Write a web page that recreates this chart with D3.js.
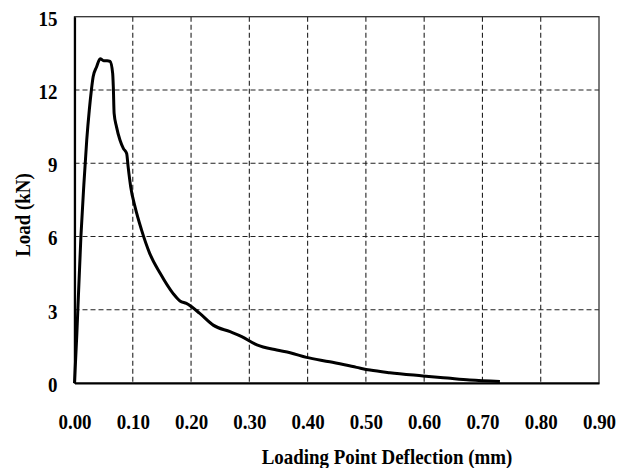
<!DOCTYPE html>
<html>
<head>
<meta charset="utf-8">
<script src="https://cdn.jsdelivr.net/npm/d3@7"></script>
<style>
    body { margin: 0; background: #fff; }
    svg { display: block; }
    .tick-label { font-family: "Liberation Serif", "Times New Roman", serif; font-weight: bold; font-size: 22px; fill: #000; }
    .axis-title { font-family: "Liberation Serif", "Times New Roman", serif; font-weight: bold; font-size: 22px; fill: #000; }
</style>
</head>
<body>
<div id="chart"></div>
<script>
// Load-deflection curve
const deflection = [0, 0.004, 0.011, 0.016, 0.021, 0.0254, 0.029, 0.032, 0.038, 0.044, 0.050, 0.056, 0.061,
    0.0655, 0.0666, 0.068, 0.072, 0.078, 0.084, 0.0895, 0.092, 0.0964, 0.104, 0.115, 0.129, 0.147, 0.169,
    0.181, 0.192, 0.215, 0.238, 0.267, 0.287, 0.313, 0.347, 0.370, 0.398, 0.438, 0.484, 0.507, 0.541,
    0.598, 0.640, 0.678, 0.730];
const load = [0, 2.0, 6.0, 8.1, 9.95, 11.18, 12.0, 12.54, 12.95, 13.28, 13.2, 13.2, 13.17,
    12.68, 12.13, 11.04, 10.5, 9.95, 9.6, 9.4, 8.86, 8.04, 7.2, 6.27, 5.31, 4.49, 3.67,
    3.36, 3.26, 2.85, 2.37, 2.1, 1.9, 1.56, 1.35, 1.24, 1.05, 0.87, 0.64, 0.53, 0.42,
    0.29, 0.2, 0.12, 0.06];

const xTicks = [0, 0.1, 0.2, 0.3, 0.4, 0.5, 0.6, 0.7, 0.8, 0.9];
const yTicks = [0, 3, 6, 9, 12, 15];
const xTitle = 'Loading Point Deflection (mm)';
const yTitle = 'Load (kN)';

const width = 627, height = 468;
const margin = { top: 16.7, right: 28, bottom: 85, left: 74.5 };
const plotW = width - margin.left - margin.right;
const plotH = height - margin.top - margin.bottom;

const svg = d3.select('#chart')
    .append('svg')
    .attr('width', width)
    .attr('height', height);

svg.append('rect').attr('width', width).attr('height', height).attr('fill', '#fff');

const x = d3.scaleLinear().domain([0, 0.9]).range([0, plotW]);
const y = d3.scaleLinear().domain([0, 15]).range([plotH, 0]);

const g = svg.append('g').attr('transform', `translate(${margin.left},${margin.top})`);

// Dashed grid
g.append('g')
    .classed('grid-x', true)
    .selectAll('line')
    .data(xTicks.filter((d) => d > 0 && d < 0.9))
    .join('line')
    .attr('x1', (d) => x(d)).attr('x2', (d) => x(d))
    .attr('y1', 0).attr('y2', plotH)
    .attr('stroke', '#222').attr('stroke-width', 1.1)
    .attr('stroke-dasharray', '5,3');

g.append('g')
    .classed('grid-y', true)
    .selectAll('line')
    .data(yTicks.filter((d) => d > 0 && d < 15))
    .join('line')
    .attr('x1', 0).attr('x2', plotW)
    .attr('y1', (d) => y(d)).attr('y2', (d) => y(d))
    .attr('stroke', '#222').attr('stroke-width', 1.1)
    .attr('stroke-dasharray', '5,3');

// Frame: thin on top/right, heavier on the axes
g.append('rect')
    .attr('width', plotW).attr('height', plotH)
    .attr('fill', 'none').attr('stroke', '#333').attr('stroke-width', 1.3);

const xAxis = g.append('g')
    .attr('transform', `translate(0,${plotH})`)
    .call(d3.axisBottom(x).tickValues(xTicks).tickSize(0).tickPadding(46).tickFormat(d3.format('.2f')));
xAxis.select('.domain').attr('stroke', '#000').attr('stroke-width', 2.2);
xAxis.selectAll('text').attr('class', 'tick-label').attr('font-size', null).attr('font-family', null)
    .attr('dy', '0');

const yAxis = g.append('g')
    .call(d3.axisLeft(y).tickValues(yTicks).tickSize(0).tickPadding(17).tickFormat(d3.format('d')));
yAxis.select('.domain').attr('stroke', '#000').attr('stroke-width', 2.2);
yAxis.selectAll('text').attr('class', 'tick-label').attr('font-size', null).attr('font-family', null)
    .attr('dy', '0.38em');

// Curve
const points = deflection.map((d, i) => [d, load[i]]);
g.append('path')
    .datum(points)
    .attr('fill', 'none')
    .attr('stroke', '#000')
    .attr('stroke-width', 3)
    .attr('stroke-linejoin', 'round')
    .attr('d', d3.line().x((d) => x(d[0])).y((d) => y(d[1])).curve(d3.curveMonotoneX));

// Axis titles
svg.append('text')
    .attr('class', 'axis-title')
    .attr('x', 387).attr('y', 464)
    .attr('text-anchor', 'middle')
    .text(xTitle);

svg.append('text')
    .attr('class', 'axis-title')
    .attr('transform', 'translate(30,215) rotate(-90)')
    .attr('text-anchor', 'middle')
    .text(yTitle);

// The source uses a narrow bold serif: squeeze the glyphs horizontally
svg.selectAll('text').each(function () {
    const len = this.getComputedTextLength();
    d3.select(this).attr('textLength', len * 0.86).attr('lengthAdjust', 'spacingAndGlyphs');
});
</script>
</body>
</html>
